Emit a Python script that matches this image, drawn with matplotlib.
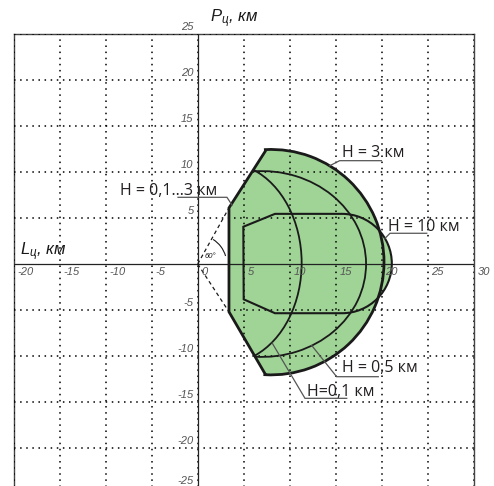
import numpy as np
import matplotlib
matplotlib.use("Agg")
import matplotlib.pyplot as plt
from matplotlib.path import Path
from matplotlib.patches import PathPatch, Arc
from matplotlib.transforms import Affine2D

plt.rcParams["mathtext.fontset"] = "custom"
plt.rcParams["mathtext.it"] = "Liberation Sans:italic"
plt.rcParams["mathtext.rm"] = "Liberation Sans"

# ---- axis scales, km ----
x_ticks = [-20, -15, -10, -5, 0, 5, 10, 15, 20, 25, 30]
y_ticks = [25, 20, 15, 10, 5, -5, -10, -15, -20, -25]

# ---- near boundary of the zone (H = 0.1...3 km) ----
# lower corner, lower near point, upper near point, upper corner
near_x = [7.3, 3.4, 3.4, 7.36]
near_y = [-11.9, -5.2, 6.1, 12.28]

# far boundary, H = 3 km (circular arc)
h3_center = (8.0, 0.2)
h3_radius = 12.25

# H = 10 km zone: straight part (bottom-right ... top-right) and far semicircle
h10_x = [15.7, 8.4, 5.0, 4.96, 8.4, 15.7]
h10_y = [-5.35, -5.35, -3.84, 4.05, 5.45, 5.45]
h10_center = (15.7, 0.05)
h10_radius = 5.4

# far boundaries for H = 0.5 km and H = 0.1 km (elliptic arcs)
h05_center, h05_semi = (7.0, 0.0), (11.3, 10.1)
h01_center, h01_semi = (3.0, 0.1), (8.3, 10.9)
junction_top = (6.04, 10.2)
junction_bottom = (6.23, -10.0)

# angle of the near boundary
sector_angle = "60°"

GREEN = "#9fd496"
INK = "#1a1a1a"
GRAY = "#555555"


def arc_between(center, a, b, p_start, p_end):
    """Counter-clockwise elliptic arc from p_start to p_end."""
    t1 = np.degrees(np.arctan2((p_start[1] - center[1]) / b, (p_start[0] - center[0]) / a))
    t2 = np.degrees(np.arctan2((p_end[1] - center[1]) / b, (p_end[0] - center[0]) / a))
    unit = Path.arc(t1, t2)
    return Affine2D().scale(a, b).translate(*center).transform_path(unit)


def closed(arc, pts):
    pts = np.asarray(pts, float)
    verts = np.vstack([arc.vertices, pts, arc.vertices[:1]])
    codes = np.concatenate([arc.codes, np.full(len(pts), Path.LINETO), [Path.CLOSEPOLY]])
    return Path(verts, codes)


fig = plt.figure(figsize=(4.94, 4.86), dpi=100)
ax = fig.add_axes([13.7 / 494, (486 - 494) / 486, 460 / 494, 460 / 486])
ax.set_xlim(-20, 30)
ax.set_ylim(-25, 25)
ax.set_xticks(x_ticks)
ax.set_yticks(y_ticks)
ax.tick_params(length=0, labelbottom=False, labelleft=False)
ax.grid(True, color="black", linestyle=(0, (1, 3)), linewidth=1.1, zorder=2)
ax.set_axisbelow(False)
for s in ax.spines.values():
    s.set_color("#444444")
    s.set_linewidth(1.0)

# zone envelope (H = 0.1...3 km)
near = list(zip(near_x, near_y))
h3_arc = arc_between(h3_center, h3_radius, h3_radius, near[0], near[3])
envelope = closed(h3_arc, [near[3], near[2], near[1], near[0]])

# H = 10 km zone
h10 = list(zip(h10_x, h10_y))
h10_arc = arc_between(h10_center, h10_radius, h10_radius, h10[0], h10[5])
zone10 = closed(h10_arc, [h10[5], h10[4], h10[3], h10[2], h10[1], h10[0]])

for p in (envelope, zone10):
    ax.add_patch(PathPatch(p, facecolor=GREEN, edgecolor="none", zorder=1))

ax.add_patch(PathPatch(zone10, fill=False, edgecolor=INK, lw=1.5, joinstyle="miter", zorder=4))
for c, s in ((h05_center, h05_semi), (h01_center, h01_semi)):
    ax.add_patch(PathPatch(arc_between(c, s[0], s[1], junction_bottom, junction_top),
                           fill=False, edgecolor=INK, lw=1.3, zorder=4))
ax.add_patch(PathPatch(envelope, fill=False, edgecolor=INK, lw=2.0, joinstyle="miter", zorder=5))

# coordinate axes
ax.axhline(0, color="#222222", lw=0.9, zorder=3)
ax.axvline(0, color="#222222", lw=0.9, zorder=3)

# construction of the near boundary angle
for i in (1, 2):
    ax.plot([0, near_x[i]], [0, near_y[i]], color=INK, lw=0.9, ls=(0, (3, 2.5)), zorder=3)
ax.add_patch(Arc((0, 0), 6.3, 6.3, theta1=16, theta2=58, color=INK, lw=0.8, zorder=3))
ax.text(0.75, 0.4, sector_angle, fontsize=5.5, style="italic", color=INK,
        family="Liberation Sans", ha="left", va="bottom", zorder=6)

# tick labels
tick_kw = dict(fontsize=8, style="italic", color=GRAY, family="Liberation Sans", zorder=6)
for v in x_ticks:
    ax.text(v + 0.4, -0.35, f"{v}", ha="left", va="top", clip_on=False, **tick_kw)
for v in y_ticks:
    # the lowest label sits just inside the lower edge of the figure
    ty = v + 0.25 if v > -25 else -24.1
    ax.text(-0.45, ty, f"{v}", ha="right", va="bottom", clip_on=False, **tick_kw)

# axis titles
ax.text(1.3, 26.3, r"$P_{ц}$, км", fontsize=12, style="italic", color=INK,
        family="Liberation Sans", ha="left", va="baseline", clip_on=False)
ax.text(-19.35, 0.95, r"$L_{ц}$, км", fontsize=12, style="italic", color=INK,
        family="Liberation Sans", ha="left", va="baseline", clip_on=False)

# height labels with leaders
labels = [
    ("H = 0,1...3 км", (-8.45, 7.5), [(3.73, 6.41), (3.18, 7.25), (-2.14, 7.25)]),
    ("H = 3 км", (15.65, 11.66), [(14.35, 10.68), (15.43, 11.23), (19.97, 11.23)]),
    ("H = 10 км", (20.68, 3.55), [(20.36, 2.79), (20.9, 3.34), (24.9, 3.34)]),
    ("H = 0,5 км", (15.65, -11.74), [(12.39, -8.85), (15.1, -12.25), (19.63, -12.25)]),
    ("H=0,1 км", (11.85, -14.3), [(8.1, -8.6), (11.66, -14.6), (16.2, -14.6)]),
]
for text, (tx, ty), leader in labels:
    lx, ly = zip(*leader)
    ax.plot(lx, ly, color=GRAY, lw=0.9, zorder=6, solid_joinstyle="miter")
    ax.text(tx, ty, text, fontsize=11.5, color="#231f20", family="Open Sans",
            ha="left", va="baseline", zorder=7)

fig.savefig("out.png", dpi=100)
